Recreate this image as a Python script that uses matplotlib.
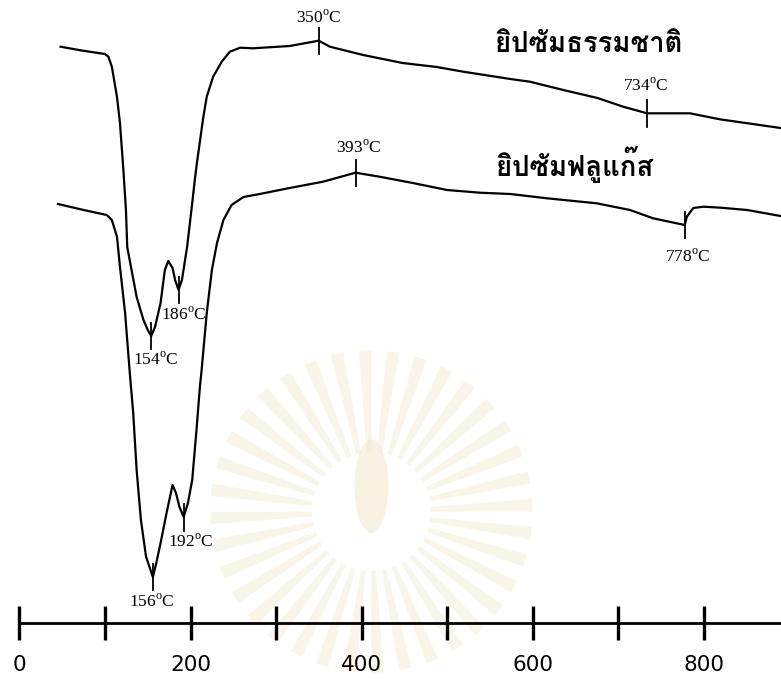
"""DTA curves of natural gypsum vs flue-gas gypsum."""
import numpy as np
import matplotlib
matplotlib.use("Agg")
import matplotlib.pyplot as plt
from matplotlib import font_manager as fm
from matplotlib.ft2font import FT2Font
from matplotlib.patches import Wedge, Ellipse

# natural gypsum: temperature (°C) and DTA signal (arb. units)
natural_T = [48, 74, 100, 104, 108, 114, 117.5, 121.5, 124.5, 126, 137, 145, 150, 154,
             158.5, 165, 170, 174, 179, 182, 186, 190, 196, 201.5, 205, 207.5, 215, 219,
             226.5, 236.5, 246, 258, 273, 316, 350, 363, 402, 448, 488, 519, 574, 597,
             636, 676, 706, 734, 784, 819, 890]
natural_sig = [-4.67, -5.07, -5.40, -5.67, -6.67, -9.67, -12.3, -17.0, -21.0, -24.7, -29.7,
               -32.0, -33.0, -33.6, -32.7, -30.3, -27.0, -26.1, -26.8, -28.0, -29.0, -28.0,
               -24.7, -20.7, -18.0, -16.3, -11.7, -9.67, -7.67, -6.17, -5.17, -4.77, -4.83,
               -4.60, -4.07, -4.67, -5.50, -6.30, -6.70, -7.17, -7.90, -8.17, -9.00, -9.80,
               -10.67, -11.33, -11.33, -11.93, -12.8]

# flue-gas gypsum
flue_T = [45, 75, 102, 108, 114, 117.5, 123.5, 129, 133, 137, 142, 148, 156, 160, 165,
          172, 179, 183, 187, 192, 197, 202, 207, 211, 213, 219, 225, 231, 238.5, 248, 262,
          281, 316, 355, 393, 421, 460, 500, 538.5, 574, 617, 675, 714, 741, 778, 780.5,
          788, 800, 820, 851, 890]
flue_sig = [-20.4, -21.0, -21.5, -22.0, -23.67, -26.67, -31.3, -37.3, -41.3, -47.0, -52.0,
            -55.67, -57.7, -56.3, -54.3, -51.3, -48.5, -49.3, -50.67, -51.7, -50.3, -48.0,
            -43.0, -38.67, -37.0, -31.3, -27.0, -24.3, -22.0, -20.5, -19.7, -19.4, -18.8,
            -18.17, -17.27, -17.67, -18.3, -19.0, -19.27, -19.4, -19.83, -20.33, -21.0,
            -21.83, -22.5, -21.67, -20.8, -20.67, -20.77, -21.0, -21.6]

natural_peaks = [154, 186, 350, 734]
flue_peaks = [156, 192, 393, 778]
natural_name = "ยิปซัมธรรมชาติ"
flue_name = "ยิปซัมฟลูแก๊ส"

axis_major = [0, 200, 400, 600, 800]
axis_minor = [100, 300, 500, 700]

# label offsets (points) from each marked peak
label_offset = {154: (3, -17), 186: (4, -18), 350: (0, 16.5), 734: (-1, 20),
                156: (-1, -18), 192: (5, -18), 393: (2, 18), 778: (2, -23)}


def thai_family():
    """first installed family that has Thai glyphs"""
    best = None
    for f in fm.fontManager.ttflist:
        try:
            cmap = FT2Font(f.fname).get_charmap()
        except Exception:
            continue
        if ord("ย") in cmap and ord("ั") in cmap:
            if f.weight in ("bold", 700) or str(f.weight) == "700":
                return f.name
            best = best or f.name
    return best or "DejaVu Sans"


plt.rcParams["mathtext.fontset"] = "custom"
plt.rcParams["mathtext.rm"] = "Liberation Serif"

fig = plt.figure(figsize=(7.81, 6.79), dpi=100)

# very faint sunburst seal printed behind the plot
wm = fig.add_axes([0.258, -0.016, 0.435, 0.5], zorder=0)
wm.set_xlim(-1, 1)
wm.set_ylim(-1, 1)
wm.set_aspect("equal")
wm.axis("off")
n_rays = 36
for k in range(n_rays):
    a0 = 360 * k / n_rays
    wm.add_patch(Wedge((0, 0.05), 0.95, a0, a0 + 360 / n_rays * 0.45, width=0.6,
                       color="#f5ead0", alpha=0.45, lw=0))
wm.add_patch(Ellipse((0, 0.2), 0.2, 0.55, color="#f2e6c8", alpha=0.5, lw=0))

ax = fig.add_axes([0, 0, 1, 1], zorder=1)
ax.set_xlim(-22.8, 890.6)
ax.set_ylim(-67.9, 0)

for T, sig in [(natural_T, natural_sig), (flue_T, flue_sig)]:
    ax.plot(T, sig, color="black", lw=1.6, solid_joinstyle="round")

for T, sig, peaks in [(natural_T, natural_sig, natural_peaks),
                      (flue_T, flue_sig, flue_peaks)]:
    for p in peaks:
        y = np.interp(p, T, sig)
        ax.plot([p, p], [y - 1.35, y + 1.3], color="black", lw=1.3)
        ax.annotate(f"{p}$^{{\\rm o}}$C", (p, y), xytext=label_offset[p],
                    textcoords="offset points", ha="center", va="center",
                    fontsize=12.5, family="Liberation Serif")

tf = thai_family()
ax.text(557, -4.45, natural_name, family=[tf, "DejaVu Sans"], fontsize=19.8,
        fontweight="bold", va="center", ha="left")
ax.text(558, -16.45, flue_name, family=[tf, "DejaVu Sans"], fontsize=19.8,
        fontweight="bold", va="center", ha="left")

# temperature scale along the bottom
for s in ["top", "left", "right"]:
    ax.spines[s].set_visible(False)
ax.spines["bottom"].set_position(("data", -62.3))
ax.spines["bottom"].set_bounds(0, 890.6)
ax.spines["bottom"].set_linewidth(2)
ax.set_yticks([])
ax.set_xticks(axis_major)
ax.set_xticks(axis_minor, minor=True)
ax.tick_params(axis="x", which="both", direction="inout", length=25, width=2.4,
               color="black")
ax.tick_params(axis="x", which="major", pad=10.5, labelsize=15.5)
ax.patch.set_alpha(0)

fig.savefig("out.png", dpi=100, facecolor="white")
